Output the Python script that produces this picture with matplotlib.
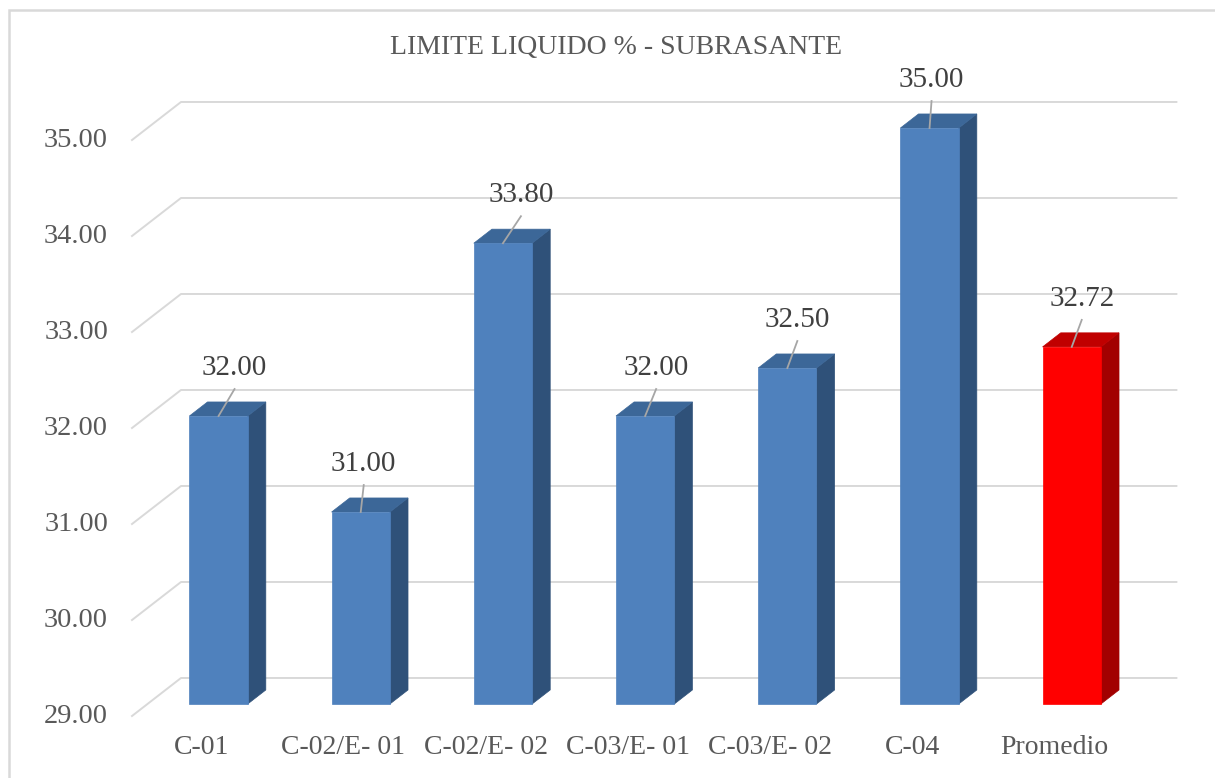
import matplotlib
matplotlib.use("Agg")
import matplotlib.pyplot as plt
from matplotlib.patches import Polygon, Rectangle

# datos del ensayo
categorias = ["C-01", "C-02/E- 01", "C-02/E- 02", "C-03/E- 01", "C-03/E- 02", "C-04", "Promedio"]
limite_liquido = [32.00, 31.00, 33.80, 32.00, 32.50, 35.00, 32.72]
ticks_y = [29, 30, 31, 32, 33, 34, 35]
titulo = "LIMITE LIQUIDO % - SUBRASANTE"

# colores (frente, tapa, lateral)
azul = ("#4F81BD", "#3C6798", "#2F5179")
rojo = ("#FF0000", "#C00000", "#A20000")
colores = [azul] * 6 + [rojo]

# desplazamiento horizontal de etiquetas de datos (px)
etiqueta_dx = [16, 3, 18, 11, 10, 2, 10]

# perspectiva: profundidad completa en unidades de datos
DX = 0.3446
DY = 0.396
Z0, Z1 = 0.315, 0.685
HW = 0.205
BASE = 29.0

plt.rcParams["font.family"] = ["Liberation Serif", "DejaVu Serif"]

fig = plt.figure(figsize=(12.15, 7.78), dpi=100)
ax = fig.add_axes([132 / 1215, 14 / 778, 1066.5 / 1215, 681.6 / 778])
ax.set_xlim(-0.5, 7.0)
ax.set_ylim(28.5, 35.6)
ax.axis("off")


def proj(x, v, z):
    return (x + z * DX, v + z * DY)


def desplazar(punto, dx_px, dy_px):
    px = ax.transData.transform(punto)
    return ax.transData.inverted().transform((px[0] + dx_px, px[1] + dy_px))


# marco del grafico
fig.patches.append(Rectangle((9 / 1215, -0.05), 1.1, (778 - 10) / 778 + 0.05,
                             transform=fig.transFigure, fill=False,
                             edgecolor="#D9D9D9", linewidth=1.8))

# lineas de division con pared izquierda
n = len(categorias)
for v in ticks_y:
    pts = [(-0.5, v), proj(-0.5, v, 1), proj(n - 0.5, v, 1)]
    ax.plot([p[0] for p in pts], [p[1] for p in pts], color="#D9D9D9",
            linewidth=1.4, zorder=1, clip_on=False)
    pos = desplazar((-0.5, v), -24, 0)
    ax.text(pos[0], pos[1], f"{v:.2f}", ha="right", va="center",
            fontsize=20.5, color="#595959")

# barras 3D
for i, (val, (c_front, c_top, c_side)) in enumerate(zip(limite_liquido, colores)):
    x0, x1 = i - HW, i + HW
    frente = [proj(x0, BASE, Z0), proj(x1, BASE, Z0), proj(x1, val, Z0), proj(x0, val, Z0)]
    tapa = [proj(x0, val, Z0), proj(x1, val, Z0), proj(x1, val, Z1), proj(x0, val, Z1)]
    lado = [proj(x1, BASE, Z0), proj(x1, BASE, Z1), proj(x1, val, Z1), proj(x1, val, Z0)]
    for poly, col in ((lado, c_side), (tapa, c_top), (frente, c_front)):
        ax.add_patch(Polygon(poly, closed=True, facecolor=col, edgecolor=col,
                             linewidth=0.5, zorder=3, clip_on=False))

    # etiqueta de valor con linea guia
    inicio = proj(i, val, Z0)
    fin = desplazar(inicio, etiqueta_dx[i], 27)
    txt = desplazar(inicio, etiqueta_dx[i], 48)
    ax.plot([inicio[0], fin[0]], [inicio[1], fin[1]], color="#A6A6A6",
            linewidth=1.3, zorder=4, clip_on=False)
    ax.text(txt[0], txt[1], f"{val:.2f}", ha="center", va="center",
            fontsize=21, color="#404040", zorder=5)

    # etiqueta de categoria en el plano frontal
    cat_px = ax.transData.transform((i, BASE))
    pos = ax.transData.inverted().transform((cat_px[0] - 2, 778 - 748))
    ax.text(pos[0], pos[1], categorias[i], ha="center", va="center",
            fontsize=20, color="#595959")

fig.text(616 / 1215, 1 - 47 / 778, titulo, ha="center", va="center",
         fontsize=20, color="#595959")

fig.savefig("out.png", dpi=100)
